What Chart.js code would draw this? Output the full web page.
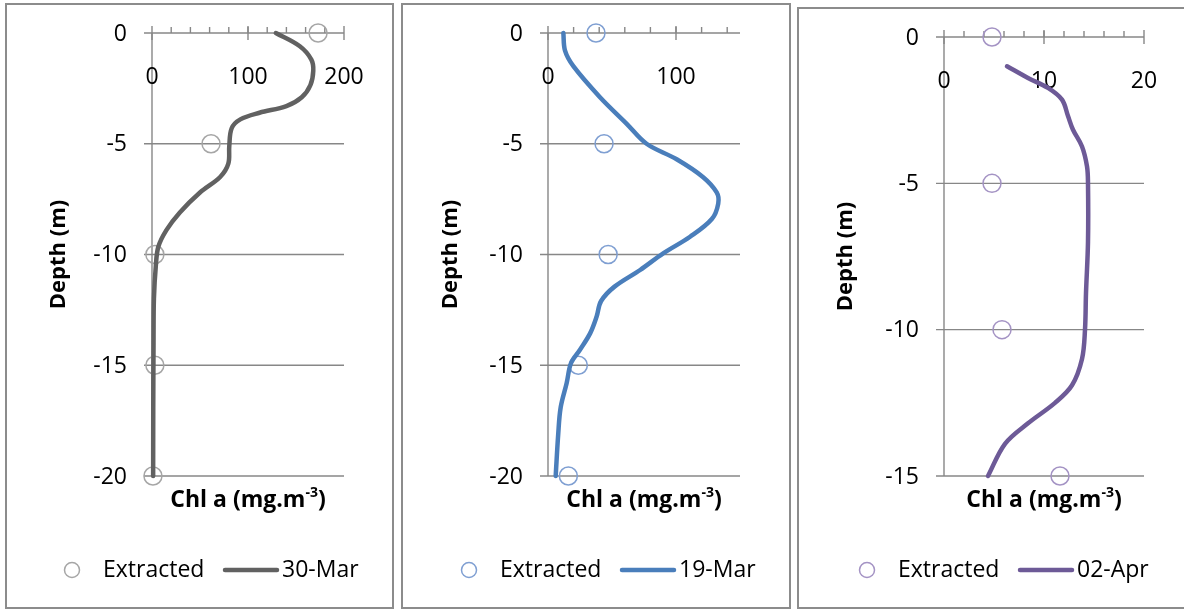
<!DOCTYPE html>
<html>
<head>
<meta charset="utf-8">
<script src="https://cdn.jsdelivr.net/npm/chart.js@4.4.1/dist/chart.umd.min.js"></script>
<style>
  body { margin: 0; background: #fff; width: 1184px; height: 610px; overflow: hidden; position: relative; }
  .panel { position: absolute; box-sizing: border-box; border: 2px solid #8c8c8c; background: #fff; overflow: hidden; }
  .panel canvas { position: absolute; left: 0; top: 0; }
</style>
</head>
<body>
<div class="panel" id="p1"><canvas id="c1"></canvas></div>
<div class="panel" id="p2"><canvas id="c2"></canvas></div>
<div class="panel" id="p3"><canvas id="c3"></canvas></div>
<script>
// ---- data ----
// 30-Mar profile (fluorescence, smoothed)
const depth30Mar = [0, -0.6, -1.2, -1.7, -2.35, -2.9, -3.3, -3.6, -3.9, -4.3, -5.1, -5.9, -6.5, -7.2, -8.1, -8.9, -9.65, -10.5, -12, -14, -17, -20];
const chl30Mar   = [129, 154, 166, 168, 165, 156, 140, 112, 92, 83, 80.5, 79.5, 71, 50, 29, 15, 6.6, 4, 2, 1.6, 1.3, 1.2];
const extDepth30Mar = [0, -5, -10, -15, -20];
const extChl30Mar   = [173, 61.5, 3, 3, 1];

// 19-Mar profile
const depth19Mar = [0, -0.8, -1.5, -2.9, -4.1, -5.0, -5.7, -6.5, -7.2, -7.7, -8.4, -9.2, -9.95, -10.7, -11.45, -12.1, -12.8, -13.55, -14.3, -14.9, -15.8, -16.9, -18.1, -20];
const chl19Mar   = [12, 13.3, 19.8, 40.6, 61.5, 77, 100.5, 121, 131.8, 133, 128, 111, 90, 72, 52, 41.5, 38, 33, 25, 18, 14.6, 9.9, 8, 6];
const extDepth19Mar = [0, -5, -10, -15, -20];
const extChl19Mar   = [37.5, 43.8, 47, 23.7, 15.9];

// 02-Apr profile
const depth02Apr = [-1.0, -1.4, -1.74, -2.14, -2.7, -3.17, -3.74, -4.42, -5.0, -7.0, -8.75, -10, -11.0, -11.9, -12.5, -13.2, -13.9, -15];
const chl02Apr   = [6.3, 8.4, 10.4, 11.8, 12.4, 12.9, 13.8, 14.3, 14.4, 14.4, 14.2, 14.1, 13.8, 12.8, 11.1, 8.4, 6.1, 4.4];
const extDepth02Apr = [0, -5, -10, -15];
const extChl02Apr   = [4.8, 4.8, 5.8, 11.6];

// axis tick labels
const depthTicks20 = [0, -5, -10, -15, -20];
const depthTicks15 = [0, -5, -10, -15];
const chlTicks200 = [0, 100, 200];
const chlTicks150 = [0, 100];
const chlTicks20  = [0, 10, 20];

const seriesLabels = ['30-Mar', '19-Mar', '02-Apr'];
const pointsLabel = 'Extracted';

// ---- layout (page pixels) ----
const panels = [
  { id: 'c1', box: { left: 5, top: 3, width: 389, height: 606 }, area: { l: 152, r: 344, t: 33, b: 476 },
    depth: depth30Mar, chl: chl30Mar, extDepth: extDepth30Mar, extChl: extChl30Mar,
    xMax: 200, xMinor: 20, xTicks: chlTicks200, yMin: -20, yTicks: depthTicks20,
    line: '#616161', mark: '#a6a6a6', label: seriesLabels[0], titleX: 59, legendX: 72 },
  { id: 'c2', box: { left: 401, top: 3, width: 390, height: 606 }, area: { l: 548, r: 740, t: 33, b: 476 },
    depth: depth19Mar, chl: chl19Mar, extDepth: extDepth19Mar, extChl: extChl19Mar,
    xMax: 150, xMinor: 20, xTicks: chlTicks150, yMin: -20, yTicks: depthTicks20,
    line: '#4a7ebb', mark: '#7f9fd2', label: seriesLabels[1], titleX: 451, legendX: 469 },
  { id: 'c3', box: { left: 797, top: 7, width: 400, height: 602 }, area: { l: 944, r: 1144, t: 37, b: 476 },
    depth: depth02Apr, chl: chl02Apr, extDepth: extDepth02Apr, extChl: extChl02Apr,
    xMax: 20, xMinor: 2, xTicks: chlTicks20, yMin: -15, yTicks: depthTicks15,
    line: '#6d5a97', mark: '#a493c4', label: seriesLabels[2], titleX: 846, legendX: 867 },
];

const FONT = '"Open Sans", "Noto Sans", sans-serif';
const AXIS = '#878787';
const LEGEND_Y = 570;

function seg(ctx, x1, y1, x2, y2) {
  ctx.beginPath();
  ctx.moveTo(x1, y1);
  ctx.lineTo(x2, y2);
  ctx.stroke();
}

// axes, gridlines, tick labels and titles drawn under the series
const axesPlugin = {
  id: 'profileAxes',
  beforeDatasetsDraw(chart, args, o) {
    const { ctx, chartArea: a, scales: { x, y } } = chart;
    ctx.save();
    ctx.strokeStyle = AXIS;
    ctx.lineWidth = 1.4;

    // depth gridlines, crossing the depth axis on the left
    for (const v of o.yTicks) {
      const py = y.getPixelForValue(v);
      seg(ctx, a.left - 8, py, a.right, py);
    }
    // depth axis
    const x0 = x.getPixelForValue(0);
    seg(ctx, x0, a.top, x0, a.bottom);

    // chl axis ticks along depth 0
    const yTop = y.getPixelForValue(0);
    for (let v = o.xMinor; v < o.xMax; v += o.xMinor) {
      const px = x.getPixelForValue(v);
      seg(ctx, px, yTop - 6, px, yTop);
    }
    for (const v of o.xTicks) {
      const px = x.getPixelForValue(v);
      seg(ctx, px, yTop - 7, px, yTop + 7);
    }

    ctx.fillStyle = '#000';
    ctx.font = '23px ' + FONT;
    ctx.textBaseline = 'middle';
    ctx.textAlign = 'center';
    for (const v of o.xTicks) {
      ctx.fillText(String(v), x.getPixelForValue(v), yTop + 44);
    }
    ctx.textAlign = 'right';
    for (const v of o.yTicks) {
      ctx.fillText(String(v), a.left - 25, y.getPixelForValue(v) + 1);
    }

    // x title with superscript
    ctx.font = 'bold 23px ' + FONT;
    const t1 = 'Chl a (mg.m', t3 = ')';
    const w1 = ctx.measureText(t1).width, w3 = ctx.measureText(t3).width;
    ctx.font = 'bold 14px ' + FONT;
    const w2 = ctx.measureText('-3').width;
    const tx = (a.left + a.right) / 2 - (w1 + w2 + w3) / 2;
    const ty = a.bottom + 24;
    ctx.textAlign = 'left';
    ctx.font = 'bold 23px ' + FONT;
    ctx.fillText(t1, tx, ty);
    ctx.font = 'bold 14px ' + FONT;
    ctx.fillText('-3', tx + w1, ty - 7);
    ctx.font = 'bold 23px ' + FONT;
    ctx.fillText(t3, tx + w1 + w2, ty);

    // y title
    ctx.save();
    ctx.translate(o.titleX, (a.top + a.bottom) / 2);
    ctx.rotate(-Math.PI / 2);
    ctx.textAlign = 'center';
    ctx.font = 'bold 22px ' + FONT;
    ctx.fillText('Depth (m)', 0, 0);
    ctx.restore();

    ctx.restore();
  },
  afterDraw(chart, args, o) {
    // legend row
    const ctx = chart.ctx;
    const ly = o.legendY;
    const lx = o.legendX;
    ctx.save();
    ctx.lineWidth = 1.5;
    ctx.strokeStyle = o.mark;
    ctx.beginPath();
    ctx.arc(lx, ly, 7.5, 0, Math.PI * 2);
    ctx.stroke();
    ctx.fillStyle = '#000';
    ctx.font = '23px ' + FONT;
    ctx.textBaseline = 'middle';
    ctx.textAlign = 'left';
    ctx.fillText(pointsLabel, lx + 31, ly);
    ctx.strokeStyle = o.line;
    ctx.lineWidth = 4.5;
    ctx.lineCap = 'round';
    seg(ctx, lx + 153, ly, lx + 205, ly);
    ctx.fillText(o.label, lx + 210, ly);
    ctx.restore();
  }
};

for (const p of panels) {
  const el = document.getElementById(p.id);
  const div = el.parentElement;
  Object.assign(div.style, {
    left: p.box.left + 'px', top: p.box.top + 'px',
    width: p.box.width + 'px', height: p.box.height + 'px'
  });
  const cw = p.box.width - 4, chh = p.box.height - 4;
  el.width = cw;
  el.height = chh;
  const ox = p.box.left + 2, oy = p.box.top + 2;
  // page positions moved into the canvas frame
  const opts = Object.assign({}, p, {
    titleX: p.titleX - ox,
    legendX: p.legendX - ox,
    legendY: LEGEND_Y - oy,
  });

  new Chart(el, {
    type: 'scatter',
    data: {
      datasets: [
        {
          label: p.label,
          data: p.depth.map((d, i) => ({ x: p.chl[i], y: d })),
          showLine: true,
          borderColor: p.line,
          borderWidth: 4.5,
          borderCapStyle: 'round',
          borderJoinStyle: 'round',
          pointRadius: 0,
          tension: 0.35,
          fill: false,
          clip: false,
          order: 0,
        },
        {
          label: pointsLabel,
          data: p.extDepth.map((d, i) => ({ x: p.extChl[i], y: d })),
          showLine: false,
          pointStyle: 'circle',
          pointRadius: 9,
          pointBorderWidth: 1.5,
          pointBorderColor: p.mark,
          pointBackgroundColor: 'rgba(0,0,0,0)',
          clip: false,
          order: 1,
        },
      ],
    },
    options: {
      responsive: false,
      animation: false,
      events: [],
      layout: {
        padding: {
          left: p.area.l - ox,
          top: p.area.t - oy,
          right: cw - (p.area.r - ox),
          bottom: chh - (p.area.b - oy),
        },
      },
      scales: {
        x: { type: 'linear', min: 0, max: p.xMax, display: false },
        y: { type: 'linear', min: p.yMin, max: 0, display: false },
      },
      plugins: {
        legend: { display: false },
        tooltip: { enabled: false },
        profileAxes: opts,
      },
    },
    plugins: [axesPlugin],
  });
}
</script>
</body>
</html>
